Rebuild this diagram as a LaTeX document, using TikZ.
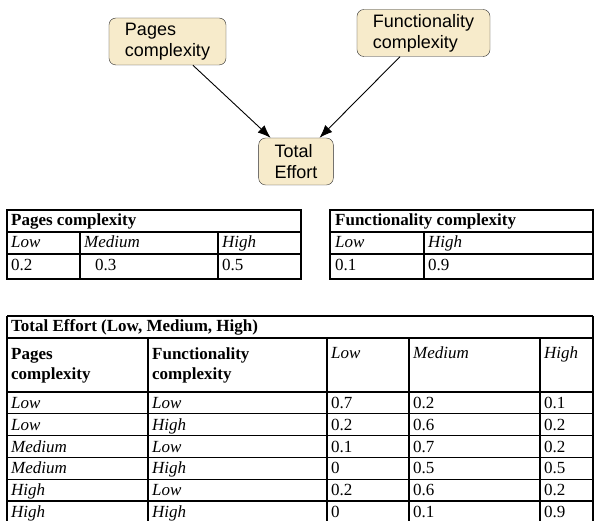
\documentclass[tikz,border=0pt]{standalone}
\usepackage{fontspec}
\setmainfont{Liberation Serif}
\newfontfamily\netfont{Liberation Sans}
\usetikzlibrary{arrows.meta}
\definecolor{cream}{HTML}{F7EBCB}
\definecolor{outline}{HTML}{2B2B2B}
\tikzset{>={Latex[length=13pt,width=10pt]},
  chance/.style={draw=outline,rounded corners=7pt,fill=cream,align=left,font=\netfont\fontsize{18}{21}\selectfont,inner xsep=16pt,inner ysep=3pt,minimum height=47pt},
  arr/.style={->,line width=0.9pt},
  rule/.style={line width=1.3pt},
  cell/.style={anchor=base west,inner sep=0pt,font=\fontsize{17}{20}\selectfont},
  hcell/.style={cell,font=\bfseries\fontsize{17}{20}\selectfont},
  icell/.style={cell,font=\itshape\fontsize{17}{20}\selectfont}}

\begin{document}
\begin{tikzpicture}[x=1pt,y=-1pt]
\useasboundingbox (0,0) rectangle (595,521);
% the network
\node[chance] (pages) at (167.5,41.5) {Pages\\complexity};
\node[chance] (func) at (423.5,33) {Functionality\\complexity};
\node[chance] (total) at (296,161.5) {Total\\Effort};
\draw[arr] (pages)--(total);
\draw[arr] (func)--(total);

% prior tables
\draw[rule] (7,210) rectangle (301,279) (7,232)--(301,232) (7,254)--(301,254)
  (80,232)--(80,279) (218,232)--(218,279);
\node[hcell] (ptitle) at (11,226) {Pages complexity};
\node[icell] (plow) at (11,248) {Low};
\node[icell] (pmed) at (84,248) {Medium};
\node[icell] (phigh) at (222,248) {High};
\node[cell] (plowp) at (11,271) {0.2};
\node[cell] (pmedp) at (95,271) {0.3};
\node[cell] (phighp) at (222,271) {0.5};

\draw[rule] (330,210) rectangle (593,279) (330,232)--(593,232) (330,254)--(593,254)
  (424,232)--(424,279);
\node[hcell] (ftitle) at (335,226) {Functionality complexity};
\node[icell] (flow) at (335,248) {Low};
\node[icell] (fhigh) at (428,248) {High};
\node[cell] (flowp) at (335,271) {0.1};
\node[cell] (fhighp) at (428,271) {0.9};

% conditional table, runs on past the bottom edge
\draw[rule] (7,316)--(593,316) (7,338)--(593,338);
\foreach \y in {392,413.8,435.6,457.4,479.2,501} \draw[rule] (7,\y)--(593,\y);
\draw[rule] (7,316)--(7,521) (593,316)--(593,521);
\foreach \x in {148,327,409,540} \draw[rule] (\x,338)--(\x,521);
\node[hcell] (ttitle) at (11,332) {Total Effort (Low, Medium, High)};
\node[hcell,align=left,anchor=north west] (hpages) at (11,348) {Pages\\complexity};
\node[hcell,align=left,anchor=north west] (hfunc) at (152,348) {Functionality\\complexity};
\node[icell] (hlow) at (331,359) {Low};
\node[icell] (hmed) at (413,359) {Medium};
\node[icell] (hhigh) at (544,359) {High};
\foreach \p/\f/\a/\b/\c [count=\r] in {Low/Low/0.7/0.2/0.1, Low/High/0.2/0.6/0.2,
    Medium/Low/0.1/0.7/0.2, Medium/High/0/0.5/0.5, High/Low/0.2/0.6/0.2, High/High/0/0.1/0.9}{
  \pgfmathsetmacro\yb{392+(\r-1)*21.8+16.5}
  \node[icell] (p\r) at (11,\yb) {\p};
  \node[icell] (f\r) at (152,\yb) {\f};
  \node[cell] (lo\r) at (331,\yb) {\a};
  \node[cell] (me\r) at (413,\yb) {\b};
  \node[cell] (hi\r) at (544,\yb) {\c};
}
\end{tikzpicture}
\end{document}
